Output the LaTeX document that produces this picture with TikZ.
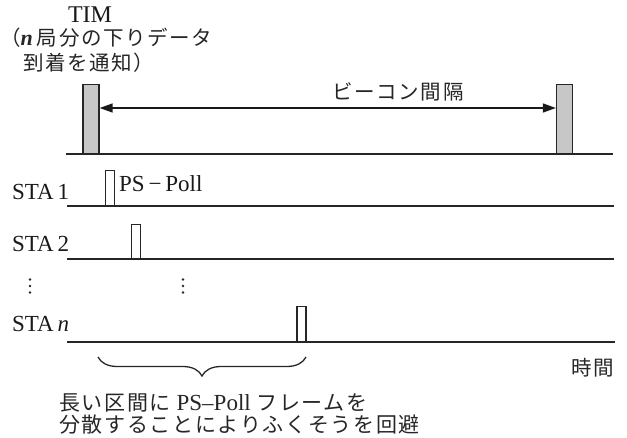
\documentclass[tikz,border=0pt]{standalone}
\usepackage{fontspec}
\setmainfont{Liberation Serif}
\newfontfamily\jp[LetterSpace=8]{Noto Sans CJK JP}
\usetikzlibrary{arrows.meta,decorations.pathreplacing}
\begin{document}
\begin{tikzpicture}[x=1pt,y=-1pt,
  axis/.style={line width=1.2pt, draw=black!85},
  timbar/.style={draw=black!85, line width=1.3pt, fill=black!22, inner sep=0pt, minimum width=16pt, minimum height=69pt, anchor=south},
  pollbox/.style={draw=black!85, line width=1.2pt, fill=white, inner sep=0pt, minimum width=9pt, minimum height=35pt, anchor=south},
  lat/.style={font=\fontsize{23}{25}\selectfont, inner sep=0pt, text=black!90},
  jtxt/.style={font=\fontsize{20.5}{23}\selectfont\jp, inner sep=0pt, text=black!85},
  jnote/.style={font=\fontsize{21}{23}\selectfont\jp, inner sep=0pt, text=black!85},
  intv/.style={{Triangle[length=13pt,width=9pt]}-{Triangle[length=13pt,width=9pt]}, line width=1.4pt, draw=black!90},
  bracestyle/.style={decorate, decoration={brace, mirror, amplitude=19pt}, line width=1.3pt, draw=black!85},
  dotmark/.style={fill=black!85}
]
\useasboundingbox (0,0) rectangle (627,438);

% TIM label
\node[lat, anchor=base, font=\fontsize{24}{26}\selectfont] (tim) at (90,23) {TIM};
\node[jtxt, anchor=west] (timA) at (0,38) {（{\rmfamily\bfseries\itshape\fontsize{22}{24}\selectfont n}\hspace{4pt}局分の下りデータ};
\node[jtxt, anchor=west] (timB) at (23,63) {到着を通知）};

% top axis with beacon bars
\coordinate (a0s) at (66,154);
\coordinate (a0e) at (613,154);
\draw[axis] (a0s) -- (a0e);
\node[timbar] (b1) at (91,154) {};
\node[timbar] (b2) at (564.5,154) {};
\coordinate (arry) at (0,108);
\draw[intv] (b1.east |- arry) -- (b2.west |- arry);
\node[jtxt] (beacon) at (398,92) {ビーコン間隔};

% STA 1
\coordinate (a1s) at (67,206);
\coordinate (a1e) at (614,206);
\draw[axis] (a1s) -- (a1e);
\node[lat, anchor=base west] (sta1) at (12,200) {STA\,1};
\node[pollbox] (p1) at (110,206) {};
\node[lat, anchor=base west] (pslbl) at (119,192) {PS\,−\,Poll};

% STA 2
\coordinate (a2s) at (67,259);
\coordinate (a2e) at (614,259);
\draw[axis] (a2s) -- (a2e);
\node[lat, anchor=base west] (sta2) at (12,252) {STA\,2};
\node[pollbox, minimum height=34pt] (p2) at (136,259) {};

% dots
\foreach \yy in {279.5,286,292.5} {
  \fill[dotmark] (30,\yy) circle (1.3pt);
  \fill[dotmark] (183,\yy) circle (1.3pt);
}

% STA n
\coordinate (a3s) at (67,342);
\coordinate (a3e) at (615,342);
\draw[axis] (a3s) -- (a3e);
\node[lat, anchor=base west] (stan) at (12,332) {STA\,\textit{n}};
\node[pollbox] (pn) at (301.5,342) {};

% brace
\coordinate (brL) at (98,357);
\coordinate (brR) at (306,357);
\draw[bracestyle] (brL) -- (brR);

\node[jtxt, anchor=east] (time) at (614,368) {時間};

\node[jnote, anchor=west] (note1) at (59,403) {長い区間に{\rmfamily\fontsize{23}{25}\selectfont\ PS–Poll\ }フレームを};
\node[jnote, anchor=west] (note2) at (59,425) {分散することによりふくそうを回避};
\end{tikzpicture}
\end{document}
